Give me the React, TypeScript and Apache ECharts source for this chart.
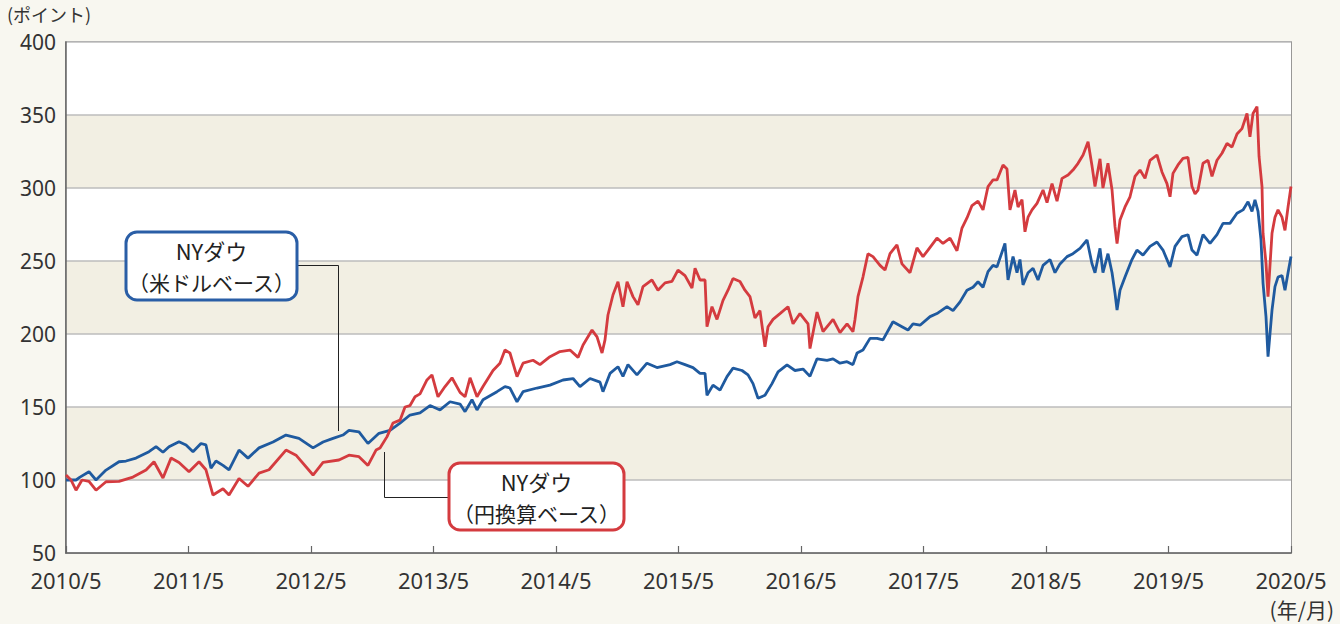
import React, { useEffect, useRef } from "react";
import * as echarts from "echarts";

// months elapsed since 2010/5
const usdMonths = [0, 0.98, 1.37, 2.25, 2.94, 3.92, 5.19, 5.88, 6.86, 8.13, 8.82, 9.5, 10.09, 11.07, 11.76, 12.44, 13.22, 13.71, 14.2, 14.69, 15.38, 15.97, 16.95, 17.83, 18.91, 20.28, 21.55, 22.82, 24.2, 25.18, 26.16, 27.13, 27.72, 28.7, 29.58, 30.66, 31.74, 32.72, 33.7, 34.68, 35.66, 36.64, 37.62, 38.6, 39.09, 39.77, 40.26, 40.85, 42.22, 43.0, 43.49, 44.18, 44.77, 46.14, 47.41, 48.69, 49.67, 50.35, 51.33, 52.31, 52.6, 53.29, 54.07, 54.56, 55.05, 55.93, 56.91, 57.89, 59.17, 59.85, 60.64, 61.42, 62.11, 62.6, 62.79, 63.38, 64.07, 64.75, 65.34, 66.22, 66.81, 67.3, 67.79, 68.47, 69.16, 69.75, 70.63, 71.41, 72.2, 72.88, 73.57, 74.55, 75.14, 75.82, 76.51, 77.09, 77.49, 78.07, 78.76, 79.45, 80.03, 81.01, 81.89, 82.48, 82.97, 83.66, 84.64, 85.32, 86.3, 86.89, 87.58, 88.26, 88.85, 89.34, 89.83, 90.32, 90.81, 91.2, 91.98, 92.28, 92.77, 93.16, 93.45, 93.75, 94.24, 94.73, 95.22, 95.71, 96.39, 96.88, 97.37, 98.06, 98.64, 99.33, 100.02, 100.51, 100.8, 101.29, 101.58, 102.07, 102.47, 102.76, 102.96, 103.25, 103.74, 104.42, 104.91, 105.5, 106.19, 106.87, 107.46, 108.15, 108.64, 109.32, 109.91, 110.3, 110.79, 111.38, 112.07, 112.75, 113.34, 114.02, 114.71, 115.3, 115.79, 116.18, 116.47, 116.77, 117.06, 117.26, 117.55, 117.75, 118.14, 118.43, 118.73, 119.12, 119.41, 119.71, 120];
const usdValues = [100, 100, 102, 105.7, 100, 106.8, 112.5, 113, 115, 119.4, 122.8, 119, 122.8, 126.2, 124, 119.4, 125, 124, 108, 113, 110, 107, 120.5, 115, 122, 126, 130.8, 128.5, 122, 126, 128.5, 130.8, 134, 133, 125, 132, 134, 139, 144.5, 146, 151, 148, 153.6, 152, 146.8, 155, 148, 155, 160.5, 164, 163, 153.6, 160.5, 163, 165, 168.5, 169.5, 164, 169.5, 167, 160.5, 173, 177.6, 171, 179, 172, 180, 177, 179, 181, 179, 177, 173, 173, 158, 165, 161.6, 170.8, 176.6, 175, 172, 166, 156, 158, 166, 174, 178.8, 175, 176, 171, 183, 182, 183, 180, 181, 179, 187, 189, 197, 197, 196, 208.4, 205, 202.7, 207, 206, 211.9, 214, 218.7, 216, 222, 230, 232, 235.8, 232, 242.7, 247, 246, 262, 237, 253, 242, 251, 233.6, 242, 245, 237, 247, 251, 242, 248, 253, 255, 258.7, 264.4, 248, 242, 258.7, 242, 255, 242, 227.8, 216.4, 230, 239, 251, 257.5, 254, 260, 263, 257.5, 246, 260, 266.7, 268, 257.5, 254, 268, 262, 268, 275.8, 275.8, 282.7, 285, 290.6, 284, 291.8, 284, 264.4, 234.9, 211.9, 184.5, 216.4, 232.4, 239, 240, 230, 242, 253];

const jpyMonths = [0, 0.49, 0.98, 1.57, 2.25, 2.94, 3.92, 5.19, 6.56, 7.84, 8.62, 9.5, 10.29, 11.07, 12.05, 13.03, 13.71, 14.4, 15.38, 15.97, 16.95, 17.83, 18.91, 19.89, 21.55, 22.53, 24.2, 25.18, 26.74, 27.72, 28.7, 29.58, 30.37, 30.76, 31.45, 32.03, 32.72, 33.21, 33.7, 34.19, 34.68, 35.36, 35.85, 36.44, 37.13, 37.81, 38.6, 39.09, 39.58, 40.26, 40.85, 41.83, 42.51, 43.0, 43.49, 44.18, 44.77, 45.75, 46.43, 47.41, 48.39, 49.37, 50.16, 50.65, 51.53, 52.02, 52.51, 52.8, 53.09, 53.58, 54.07, 54.56, 54.96, 55.54, 56.03, 56.52, 57.4, 57.99, 58.68, 59.36, 59.95, 60.64, 61.32, 61.62, 62.11, 62.6, 62.79, 63.28, 63.77, 64.36, 64.85, 65.34, 66.02, 66.51, 67.0, 67.49, 67.98, 68.47, 68.77, 69.26, 69.94, 70.73, 71.22, 71.9, 72.69, 72.88, 73.57, 74.16, 75.14, 75.82, 76.51, 77.09, 77.29, 77.58, 78.07, 78.56, 79.05, 79.74, 80.23, 80.72, 81.4, 81.89, 82.68, 83.36, 83.95, 84.44, 85.32, 85.91, 86.6, 87.28, 87.77, 88.26, 88.75, 89.34, 89.83, 90.32, 90.81, 91.2, 91.79, 92.18, 92.47, 92.96, 93.26, 93.65, 93.94, 94.24, 94.63, 95.12, 95.71, 96.1, 96.59, 97.08, 97.57, 98.16, 98.64, 99.14, 99.63, 100.12, 100.51, 100.8, 101.29, 101.58, 102.07, 102.47, 102.76, 102.96, 103.25, 103.74, 104.23, 104.72, 105.21, 105.7, 106.19, 106.87, 107.36, 107.85, 108.15, 108.44, 108.93, 109.42, 109.91, 110.3, 110.6, 110.89, 111.38, 111.87, 112.26, 112.75, 113.24, 113.73, 114.22, 114.71, 115.2, 115.69, 115.98, 116.28, 116.67, 116.87, 117.16, 117.26, 117.55, 117.75, 118.14, 118.43, 118.73, 119.12, 119.41, 119.71, 120];
const jpyValues = [103.4, 100, 93, 100, 99, 93, 98.8, 99, 102, 106.8, 112.5, 101.4, 115, 112, 105.7, 112.5, 107, 89.7, 94, 89.7, 101, 95.7, 104.7, 107, 120.5, 117, 103.4, 112, 113.7, 117, 116, 110, 120.5, 121.9, 129.7, 139, 141, 150, 151, 157, 159, 168.5, 172, 157, 164, 170, 160, 157, 170, 157, 164, 175, 180, 189, 187, 170.8, 180, 182, 179, 184.5, 188, 189, 184, 192.5, 202.7, 198, 187, 196, 213, 226.7, 235.8, 218.7, 235.8, 225.6, 220, 232.4, 237, 230, 235, 236, 243.8, 240, 231.5, 245, 237, 237, 205, 218.7, 210, 223, 230, 238, 236, 230, 225.6, 211, 216, 191.3, 205, 210, 214, 218.7, 207, 214, 207, 190, 215, 201.6, 210, 201, 207, 201.6, 210, 225.6, 239, 255, 253, 247, 243.8, 255, 261, 248, 242, 259, 253, 257.5, 265.7, 262, 265.7, 257, 272.6, 279.5, 288, 291, 285, 301, 305.5, 305.5, 315.8, 313, 285, 298.6, 287, 292, 270, 280, 285, 289.5, 298.6, 290, 303, 291, 306.6, 308.9, 312.3, 316.9, 322.6, 331.7, 315, 301, 320, 300, 317, 298.6, 273.5, 262, 278, 287, 294, 308, 312.3, 306.6, 319, 322.6, 311, 303, 294, 310, 315.8, 320.3, 321, 301, 296, 298.6, 317, 319, 308, 319, 323.8, 330.6, 328, 337, 340.7, 351, 335, 351, 355.7, 321.6, 301, 269, 248.6, 225.6, 269, 280, 285, 280, 271, 287, 301];

const yearLabels = ["2010/5", "2011/5", "2012/5", "2013/5", "2014/5", "2015/5", "2016/5", "2017/5", "2018/5", "2019/5", "2020/5"];

const FONT = "'Noto Sans', 'Noto Sans CJK JP', sans-serif";
const JFONT = "'Noto Sans CJK JP', 'Noto Sans', sans-serif";
const BLUE = "#1f5a9f";
const RED = "#d43b3f";

export default function App() {
  const ref = useRef<HTMLDivElement>(null);
  useEffect(() => {
    document.body.style.margin = "0";
    if (!ref.current) return;
    const chart = echarts.init(ref.current, null, { renderer: "svg" });
    chart.setOption({
      animation: false,
      backgroundColor: "#f8f7f0",
      grid: { left: 66, right: 49, top: 42, bottom: 71, show: true, borderColor: "#7a7a7a", borderWidth: 1.5, backgroundColor: "#ffffff" },
      xAxis: {
        type: "value",
        min: 0,
        max: 120,
        interval: 12,
        axisLine: { show: true, lineStyle: { color: "#666", width: 1.5 } },
        axisTick: { show: true, inside: true, length: 7, lineStyle: { color: "#666", width: 1.2 } },
        splitLine: { show: false },
        axisLabel: {
          color: "#333",
          fontSize: 22,
          fontFamily: FONT,
          margin: 16,
          formatter: (v: number) => yearLabels[Math.round(v / 12)] ?? "",
        },
      },
      yAxis: {
        type: "value",
        min: 50,
        max: 400,
        interval: 50,
        axisLine: { show: true, lineStyle: { color: "#666", width: 1.5 } },
        axisTick: { show: false },
        splitLine: { show: true, lineStyle: { color: "#bdbdbd", width: 1.5 } },
        splitArea: { show: true, areaStyle: { color: ["#ffffff", "#f2efe3"] } },
        axisLabel: { color: "#333", fontSize: 21, fontFamily: FONT, margin: 10 },
      },
      series: [
        {
          type: "line",
          name: "NYダウ（米ドルベース）",
          data: usdMonths.map((m, i) => [m, usdValues[i]]),
          showSymbol: false,
          lineStyle: { color: BLUE, width: 2.8 },
          itemStyle: { color: BLUE },
          z: 3,
        },
        {
          type: "line",
          name: "NYダウ（円換算ベース）",
          data: jpyMonths.map((m, i) => [m, jpyValues[i]]),
          showSymbol: false,
          lineStyle: { color: RED, width: 2.8 },
          itemStyle: { color: RED },
          z: 4,
        },
      ],
      graphic: [
        { type: "text", x: 7, y: 14, style: { text: "(ポイント)", font: `18px ${JFONT}`, fill: "#333", verticalAlign: "middle" } },
        { type: "text", right: 6, top: 598, style: { text: "(年/月)", font: `21px ${JFONT}`, fill: "#333" } },
        // leader lines
        { type: "polyline", shape: { points: [[296, 265.5], [338.5, 265.5], [338.5, 431]] }, style: { stroke: "#222", lineWidth: 1, fill: null }, z: 10 },
        { type: "polyline", shape: { points: [[449, 497.5], [384.5, 497.5], [384.5, 452]] }, style: { stroke: "#222", lineWidth: 1, fill: null }, z: 10 },
        // blue box
        { type: "rect", shape: { x: 126, y: 232, width: 171, height: 68, r: 11 }, style: { fill: "#ffffff", stroke: "#2a5ea6", lineWidth: 3 }, z: 11 },
        { type: "text", x: 211.5, y: 250, style: { text: "NYダウ", font: `22px ${JFONT}`, fill: "#222", align: "center", verticalAlign: "middle" }, z: 12 },
        { type: "text", x: 211.5, y: 282, style: { text: "（米ドルベース）", font: `21px ${JFONT}`, fill: "#222", align: "center", verticalAlign: "middle" }, z: 12 },
        // red box
        { type: "rect", shape: { x: 449, y: 463, width: 175, height: 67, r: 11 }, style: { fill: "#ffffff", stroke: "#d43b3f", lineWidth: 3 }, z: 11 },
        { type: "text", x: 536.5, y: 481, style: { text: "NYダウ", font: `22px ${JFONT}`, fill: "#222", align: "center", verticalAlign: "middle" }, z: 12 },
        { type: "text", x: 536.5, y: 513, style: { text: "（円換算ベース）", font: `21px ${JFONT}`, fill: "#222", align: "center", verticalAlign: "middle" }, z: 12 },
      ],
    });
    return () => chart.dispose();
  }, []);
  return <div ref={ref} style={{ width: 1340, height: 624, background: "#f8f7f0" }} />;
}
